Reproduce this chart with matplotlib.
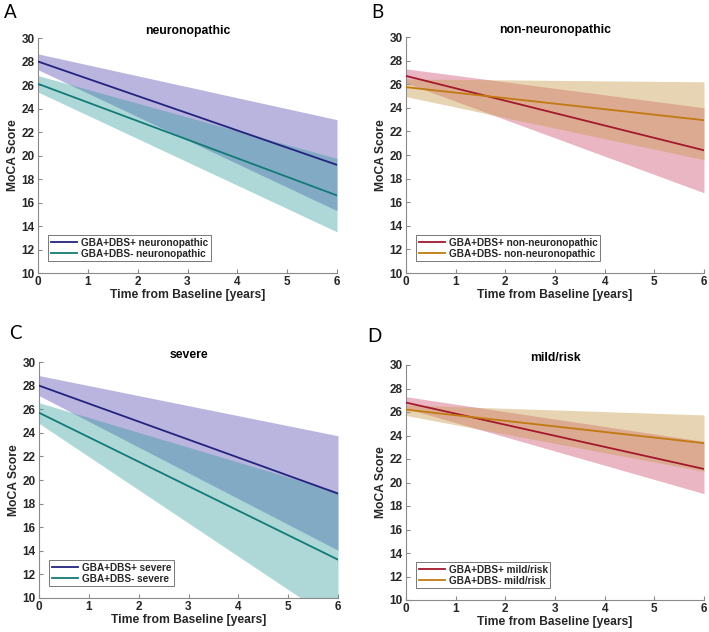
import matplotlib
matplotlib.use("Agg")
import matplotlib.pyplot as plt

# ---------------- data ----------------
time_years = [0, 6]

panel_letters = ["A", "B", "C", "D"]
panel_titles = ["neuronopathic", "non-neuronopathic", "severe", "mild/risk"]

# Panel A: neuronopathic
a_pos_fit = [28.0, 19.2]
a_pos_lo = [27.3, 15.3]
a_pos_hi = [28.65, 23.05]
a_neg_fit = [26.1, 16.6]
a_neg_lo = [25.4, 13.5]
a_neg_hi = [26.8, 19.75]

# Panel B: non-neuronopathic
b_pos_fit = [26.7, 20.4]
b_pos_lo = [26.1, 16.8]
b_pos_hi = [27.3, 24.0]
b_neg_fit = [25.75, 22.95]
b_neg_lo = [24.95, 19.6]
b_neg_hi = [26.45, 26.2]

# Panel C: severe
c_pos_fit = [28.0, 18.85]
c_pos_lo = [27.15, 14.05]
c_pos_hi = [28.85, 23.75]
c_neg_fit = [25.7, 13.25]
c_neg_lo = [24.8, 7.9]
c_neg_hi = [26.55, 19.0]

# Panel D: mild/risk
d_pos_fit = [26.8, 21.15]
d_pos_lo = [26.3, 19.05]
d_pos_hi = [27.3, 23.5]
d_neg_fit = [26.2, 23.35]
d_neg_lo = [25.7, 20.95]
d_neg_hi = [26.6, 25.75]

legend_labels = [
    ["GBA+DBS+ neuronopathic", "GBA+DBS- neuronopathic"],
    ["GBA+DBS+ non-neuronopathic", "GBA+DBS- non-neuronopathic"],
    ["GBA+DBS+ severe", "GBA+DBS- severe"],
    ["GBA+DBS+ mild/risk", "GBA+DBS- mild/risk"],
]

x_ticks = [0, 1, 2, 3, 4, 5, 6]
y_ticks = [10, 12, 14, 16, 18, 20, 22, 24, 26, 28, 30]

# ---------------- styles ----------------
navy_line = "#23237f"
teal_line = "#127a78"
navy_fill = "#5c50b4"
teal_fill = "#2a9a9a"
red_line = "#a3182c"
orange_line = "#c27a10"
red_fill = "#c8375a"
orange_fill = "#c89a4a"

series_data = [
    (a_pos_fit, a_pos_lo, a_pos_hi, a_neg_fit, a_neg_lo, a_neg_hi),
    (b_pos_fit, b_pos_lo, b_pos_hi, b_neg_fit, b_neg_lo, b_neg_hi),
    (c_pos_fit, c_pos_lo, c_pos_hi, c_neg_fit, c_neg_lo, c_neg_hi),
    (d_pos_fit, d_pos_lo, d_pos_hi, d_neg_fit, d_neg_lo, d_neg_hi),
]
color_sets = [
    (navy_line, navy_fill, teal_line, teal_fill),
    (red_line, red_fill, orange_line, orange_fill),
    (navy_line, navy_fill, teal_line, teal_fill),
    (red_line, red_fill, orange_line, orange_fill),
]

W, H = 709, 632
fig = plt.figure(figsize=(W / 100, H / 100), dpi=100)

# axes boxes in pixels: left, right, top, bottom
boxes = [
    (38, 337, 38, 273),
    (406, 704, 37, 273),
    (39, 338, 362, 598),
    (406, 704, 365, 600),
]
letter_pos = [(4, 4), (371, 4), (9, 325), (367, 328)]

font = ["Liberation Sans", "DejaVu Sans"]
axis_gray = "#8a8a8a"
text_dark = "#262626"

for i in range(4):
    l, r, t, b = boxes[i]
    ax = fig.add_axes([l / W, 1 - b / H, (r - l) / W, (b - t) / H])
    pos_fit, pos_lo, pos_hi, neg_fit, neg_lo, neg_hi = series_data[i]
    pl, pf, nl, nf = color_sets[i]
    alpha_p = 0.42 if i in (0, 2) else 0.36
    alpha_n = 0.38 if i in (0, 2) else 0.42
    ax.fill_between(time_years, pos_lo, pos_hi, color=pf, alpha=alpha_p,
                    linewidth=0, zorder=1)
    ax.fill_between(time_years, neg_lo, neg_hi, color=nf, alpha=alpha_n, linewidth=0, zorder=2)
    h1, = ax.plot(time_years, pos_fit, color=pl, lw=1.3, zorder=3)
    h2, = ax.plot(time_years, neg_fit, color=nl, lw=1.3, zorder=3)

    ax.set_xlim(0, 6)
    ax.set_ylim(10, 30)
    ax.set_xticks(x_ticks)
    ax.set_yticks(y_ticks)
    ax.spines["top"].set_visible(False)
    ax.spines["right"].set_visible(False)
    for s in ("left", "bottom"):
        ax.spines[s].set_color(axis_gray)
        ax.spines[s].set_linewidth(0.8)
    ax.tick_params(direction="in", length=3, width=0.8, color=axis_gray,
                   labelcolor=text_dark, labelsize=8.5, pad=2.5)
    for lab in ax.get_xticklabels() + ax.get_yticklabels():
        lab.set_fontweight("bold")
        lab.set_family(font)
    ax.set_xlabel("Time from Baseline [years]", fontsize=8.7, fontweight="bold",
                  color=text_dark, family=font, labelpad=0.5)
    ax.set_ylabel("MoCA Score", fontsize=8.7, fontweight="bold",
                  color=text_dark, family=font, labelpad=1.5)
    ax.set_title(panel_titles[i], fontsize=8.8, fontweight="bold", color="black",
                 family=font, pad=3)
    leg = ax.legend([h1, h2], legend_labels[i], loc="lower left",
                    bbox_to_anchor=(0.035, 0.05), frameon=True, fancybox=False,
                    prop={"family": font, "weight": "bold", "size": 7.2},
                    handlelength=2.6, handletextpad=0.4, borderpad=0.25,
                    labelspacing=0.1, borderaxespad=0)
    leg.get_frame().set_edgecolor("#555555")
    leg.get_frame().set_linewidth(0.7)
    for txt in leg.get_texts():
        txt.set_color(text_dark)

    lx, ly = letter_pos[i]
    fig.text(lx / W, 1 - ly / H, panel_letters[i], fontsize=13.5, family=["Lato", "DejaVu Sans"],
             ha="left", va="top", color="black")

fig.savefig("out.png", dpi=100)
